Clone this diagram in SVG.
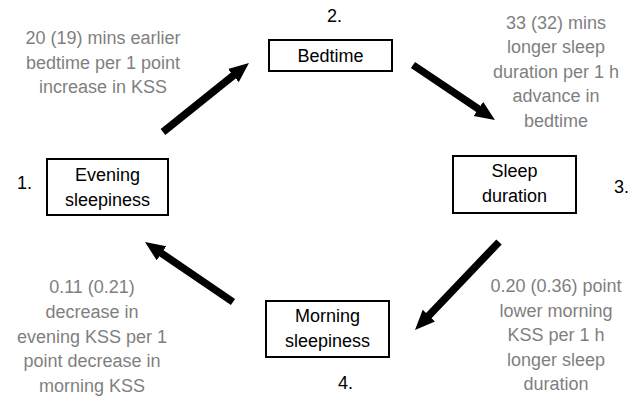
<svg xmlns="http://www.w3.org/2000/svg" width="635" height="399" viewBox="0 0 635 399">
<defs>
<style>
.box{fill:#fff;stroke:#000;stroke-width:2}
.lbl{font-family:"Liberation Sans",Arial,sans-serif;font-size:18px;fill:#000;text-anchor:middle}
.note{font-family:"Liberation Sans",Arial,sans-serif;font-size:18px;fill:#7f7f7f;text-anchor:middle}
.num{font-family:"Liberation Sans",Arial,sans-serif;font-size:18px;fill:#000}
.arr{stroke:#000;stroke-width:7.5;fill:none;marker-end:url(#ah)}
</style>
<marker id="ah" markerUnits="userSpaceOnUse" markerWidth="21" markerHeight="18" refX="8" refY="8.5" orient="auto">
<path d="M0,0 L20,8.5 L0,17 z" fill="#000"/>
</marker>
</defs>
<rect width="635" height="399" fill="#fff"/>
<g id="connectors">
<line class="arr" x1="163" y1="132" x2="239.6" y2="70.5"/>
<line class="arr" x1="413" y1="65" x2="485" y2="113.3"/>
<line class="arr" x1="499" y1="242" x2="423.3" y2="321.3"/>
<line class="arr" x1="233" y1="302" x2="154.9" y2="248.8"/>
</g>
<g id="evening">
<rect class="box" x="47" y="159" width="121" height="56"/>
<text class="lbl" x="107.5" y="181">Evening</text>
<text class="lbl" x="107.5" y="206">sleepiness</text>
<text class="num" x="17" y="189">1.</text>
</g>
<g id="bedtime">
<rect class="box" x="269" y="40" width="123" height="31"/>
<text class="lbl" x="330.5" y="62">Bedtime</text>
<text class="num" x="327" y="22">2.</text>
</g>
<g id="sleep">
<rect class="box" x="453" y="156" width="123" height="57"/>
<text class="lbl" x="514.5" y="177">Sleep</text>
<text class="lbl" x="514.5" y="202">duration</text>
<text class="num" x="614" y="193">3.</text>
</g>
<g id="morning">
<rect class="box" x="266" y="301" width="123" height="56"/>
<text class="lbl" x="327.5" y="322">Morning</text>
<text class="lbl" x="327.5" y="347">sleepiness</text>
<text class="num" x="338" y="389">4.</text>
</g>
<g id="notes">
<text class="note" x="103" y="44">20 (19) mins earlier</text>
<text class="note" x="103" y="69">bedtime per 1 point</text>
<text class="note" x="103" y="93">increase in KSS</text>
<text class="note" x="556" y="29">33 (32) mins</text>
<text class="note" x="556" y="53">longer sleep</text>
<text class="note" x="556" y="78">duration per 1 h</text>
<text class="note" x="556" y="102">advance in</text>
<text class="note" x="556" y="127">bedtime</text>
<text class="note" x="92" y="293">0.11 (0.21)</text>
<text class="note" x="92" y="318">decrease in</text>
<text class="note" x="92" y="343">evening KSS per 1</text>
<text class="note" x="92" y="367">point decrease in</text>
<text class="note" x="92" y="392">morning KSS</text>
<text class="note" x="556" y="292">0.20 (0.36) point</text>
<text class="note" x="556" y="317">lower morning</text>
<text class="note" x="556" y="341">KSS per 1 h</text>
<text class="note" x="556" y="366">longer sleep</text>
<text class="note" x="556" y="390">duration</text>
</g>
</svg>
